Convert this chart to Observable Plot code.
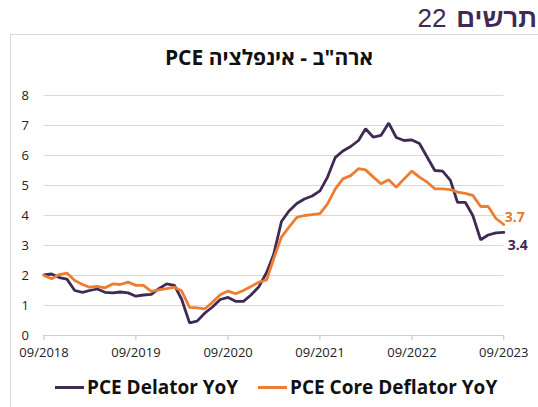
<!DOCTYPE html>
<html>
<head>
<meta charset="utf-8">
<script src="https://cdn.jsdelivr.net/npm/d3@7"></script>
<script src="https://cdn.jsdelivr.net/npm/@observablehq/plot@0.6"></script>
<style>
  html, body { margin: 0; padding: 0; background: #fff; width: 538px; height: 407px; overflow: hidden; font-family: "Open Sans", "Noto Sans", sans-serif; }
  #header { position: absolute; right: 1px; top: 0px; direction: rtl; color: #3F2A56; font-size: 26px; white-space: nowrap; font-family: "Liberation Sans", Arial, sans-serif; line-height: 36px; }
  #header b { font-weight: 700; margin-left: 10px; }
  #frame { position: absolute; left: 10px; top: 34px; width: 600px; height: 500px; border: 1px solid #d9d9d9; box-sizing: border-box; }
  #title { position: absolute; left: 0; width: 538px; top: 42px; text-align: center; direction: rtl; font-size: 21px; font-weight: 700; color: #111; font-family: "Open Sans", "Noto Sans", sans-serif; line-height: 30px; }
  #chart { position: absolute; left: 0; top: 80px; }
  #legend { position: absolute; left: 0; width: 538px; top: 374px; font-size: 19px; font-weight: 700; color: #111; font-family: "Open Sans", sans-serif; }
  .item { position: absolute; top: 0; display: flex; align-items: center; white-space: nowrap; line-height: 26px; }
  .sw { display: inline-block; width: 29px; height: 3px; margin-right: 3px; }
</style>
</head>
<body>
<div id="header"><b>תרשים</b>22</div>
<div id="frame"></div>
<div id="title">ארה"ב - אינפלציה PCE</div>
<div id="chart"></div>
<div id="legend"></div>
<script>
// Monthly data, 09/2018 .. 09/2023
const startMonth = "2018-09-01";
const pceHeadline = [
  2.02, 2.05, 1.93, 1.88, 1.50, 1.44, 1.50, 1.55, 1.44, 1.42, 1.45, 1.42,
  1.31, 1.35, 1.37, 1.56, 1.72, 1.67, 1.20, 0.42, 0.48, 0.75, 0.95, 1.20,
  1.27, 1.14, 1.14, 1.35, 1.62, 2.10, 2.70, 3.80, 4.15, 4.40, 4.55, 4.65,
  4.82, 5.28, 5.94, 6.15, 6.30, 6.50, 6.89, 6.61, 6.67, 7.08, 6.60, 6.50,
  6.52, 6.40, 5.94, 5.50, 5.48, 5.17, 4.44, 4.44, 4.00, 3.19, 3.35, 3.42,
  3.44
];
const pceCore = [
  2.00, 1.89, 2.03, 2.08, 1.83, 1.70, 1.61, 1.64, 1.59, 1.72, 1.70, 1.78,
  1.67, 1.67, 1.47, 1.52, 1.56, 1.61, 1.48, 0.94, 0.92, 0.89, 1.11, 1.36,
  1.48, 1.39, 1.50, 1.63, 1.78, 1.85, 2.56, 3.28, 3.61, 3.94, 4.00, 4.03,
  4.06, 4.39, 4.89, 5.22, 5.33, 5.56, 5.52, 5.28, 5.06, 5.19, 4.94, 5.22,
  5.48, 5.28, 5.11, 4.89, 4.89, 4.86, 4.78, 4.74, 4.67, 4.30, 4.30, 3.90,
  3.70
];
const seriesNames = ["PCE Delator YoY", "PCE Core Deflator YoY"];
const seriesColors = ["#3F2A56", "#ED7D31"];
const endLabels = ["3.4", "3.7"];
const xTickLabels = ["09/2018", "09/2019", "09/2020", "09/2021", "09/2022", "09/2023"];
const yTicks = [0, 1, 2, 3, 4, 5, 6, 7, 8];

const parseMonth = d3.utcParse("%m/%Y");
const months = d3.utcMonth.range(new Date(startMonth), d3.utcMonth.offset(new Date(startMonth), pceHeadline.length));
const rows = [];
[pceHeadline, pceCore].forEach((vals, s) => vals.forEach((v, i) => rows.push({date: months[i], value: v, series: seriesNames[s]})));
const lastRows = [
  {date: months[months.length - 1], value: pceHeadline[pceHeadline.length - 1], series: seriesNames[0], label: endLabels[0]},
  {date: months[months.length - 1], value: pceCore[pceCore.length - 1], series: seriesNames[1], label: endLabels[1]}
];
const xTicks = xTickLabels.map(parseMonth);

const chart = Plot.plot({
  width: 538,
  height: 290,
  marginTop: 15,
  marginBottom: 35,
  marginLeft: 43.5,
  marginRight: 34.7,
  style: {fontFamily: "'Open Sans', sans-serif", fontSize: "13px", color: "#222", background: "transparent"},
  x: {type: "utc", domain: [months[0], months[months.length - 1]], label: null},
  y: {domain: [0, 8], label: null},
  color: {domain: seriesNames, range: seriesColors},
  marks: [
    Plot.gridY(yTicks, {stroke: "#d9d9d9", strokeOpacity: 1, strokeWidth: 1}),
    Plot.axisY(yTicks, {tickSize: 0, tickPadding: 15, fontSize: 13, fill: "#222", label: null}),
    Plot.ruleY([0], {stroke: "#d0d0d0", strokeWidth: 1}),
    Plot.axisX(xTicks, {tickFormat: d3.utcFormat("%m/%Y"), tickSize: 5, tickPadding: 7, stroke: "#bfbfbf", fontSize: 13, fill: "#222", label: null}),
    Plot.line(rows, {x: "date", y: "value", z: "series", stroke: "series", strokeWidth: 2.8, strokeLinejoin: "miter", curve: "linear"}),
    Plot.text(lastRows.slice(0, 1), {x: "date", y: "value", text: "label", fill: seriesColors[0], textAnchor: "start", dx: 4, dy: 13, fontWeight: "bold", fontSize: 14}),
    Plot.text(lastRows.slice(1, 2), {x: "date", y: "value", text: "label", fill: "#E07A2E", textAnchor: "start", dx: 1, dy: -7, fontWeight: "bold", fontSize: 14})
  ]
});
document.getElementById("chart").appendChild(chart);

const legend = document.getElementById("legend");
const lefts = [55, 258];
seriesNames.forEach((n, i) => {
  const it = document.createElement("div");
  it.className = "item";
  it.style.left = lefts[i] + "px";
  it.innerHTML = `<span class="sw" style="background:${seriesColors[i]}"></span><span>${n}</span>`;
  legend.appendChild(it);
});
</script>
</body>
</html>
